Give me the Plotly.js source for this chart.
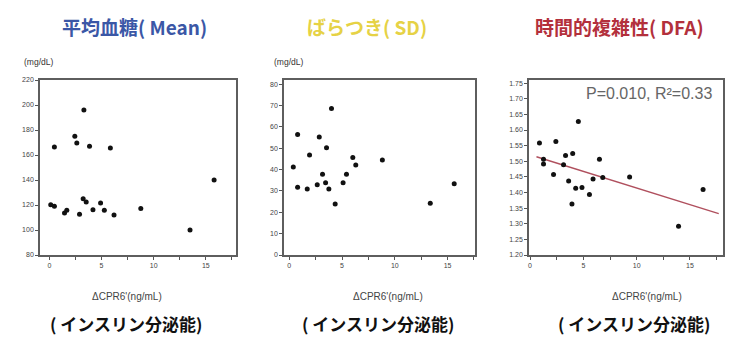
<!DOCTYPE html>
<html><head><meta charset="utf-8">
<script src="https://cdn.plot.ly/plotly-3.0.1.min.js"></script>
<style>html,body{margin:0;padding:0;background:#fff;}#chart{width:739px;height:341px;}</style>
</head><body><div id="chart"></div>
<script>
// ΔCPR6' (ng/mL) per patient
const meanX = [0.13,0.48,0.48,1.45,1.67,2.44,2.63,2.89,3.31,3.24,3.53,3.85,4.18,4.91,5.27,5.85,6.2,8.77,13.49,15.8];
const meanY = [120.2,119.1,166.4,113.7,115.9,175.1,169.7,112.6,196.1,125.1,122.4,167,116.2,121.6,115.9,165.6,112.1,117.2,100.1,140.1];

const sdX = [0.38,0.79,0.79,1.7,1.92,2.65,2.84,3.15,3.44,3.53,3.75,4.0,4.35,5.1,5.42,6.02,6.3,8.82,13.36,15.63];
const sdY = [41.2,56.5,31.8,30.9,46.8,32.9,55.3,37.8,33.8,50.3,30.9,68.7,23.9,33.8,37.8,45.7,42.2,44.5,24.2,33.4];

const dfaX = [0.88,1.26,1.26,2.2,2.42,3.14,3.33,3.62,4.0,3.93,4.28,4.53,4.87,5.57,5.91,6.51,6.82,9.34,13.93,16.23];
const dfaY = [1.558,1.506,1.491,1.458,1.563,1.489,1.518,1.437,1.525,1.363,1.414,1.627,1.416,1.394,1.443,1.506,1.448,1.45,1.292,1.41];
const fitRange = [0.6, 17.7];

const xTickVals = [0,2.5,5,7.5,10,12.5,15,17.5];
const xTickText = ['0','','5','','10','','15',''];
const meanTicks = [80,100,120,140,160,180,200,220];
const sdTicks = [0,10,20,30,40,50,60,70,80];
const dfaTicks = [1.20,1.25,1.30,1.35,1.40,1.45,1.50,1.55,1.60,1.65,1.70,1.75];

const titles = ['平均血糖( Mean)','ばらつき( SD)','時間的複雑性( DFA)'];
const titleColors = ['#3b57a6','#e6d245','#b3303c'];
const statText = 'P=0.010, R²=0.33';
const xLabel = "ΔCPR6'(ng/mL)";
const xSubLabel = '( インスリン分泌能)';
const yUnit = '(mg/dL)';

// least squares fit for DFA
const n = dfaX.length;
const mx = dfaX.reduce((a,b)=>a+b,0)/n, my = dfaY.reduce((a,b)=>a+b,0)/n;
let sxy=0, sxx=0;
for (let i=0;i<n;i++){sxy+=(dfaX[i]-mx)*(dfaY[i]-my); sxx+=(dfaX[i]-mx)*(dfaX[i]-mx);}
const slope = sxy/sxx, icpt = my - slope*mx;
const fitY = fitRange.map(x=>icpt+slope*x);

const W=739,H=341;
const px = v=>v/W, py = v=>1-v/H;
const yDom = [py(255), py(80)];

const mk = {color:'#111', size:5};
const traces = [
  {x:meanX,y:meanY,mode:'markers',type:'scatter',marker:mk,xaxis:'x',yaxis:'y'},
  {x:sdX,y:sdY,mode:'markers',type:'scatter',marker:mk,xaxis:'x2',yaxis:'y2'},
  {x:fitRange,y:fitY,mode:'lines',type:'scatter',line:{color:'#b0505e',width:1.4},xaxis:'x3',yaxis:'y3'},
  {x:dfaX,y:dfaY,mode:'markers',type:'scatter',marker:mk,xaxis:'x3',yaxis:'y3'}
];

const axBase = {showline:true,mirror:true,linecolor:'#5e5e5e',linewidth:1.8,ticks:'outside',ticklen:3,tickwidth:1,tickcolor:'#555',
  showgrid:false,zeroline:false,tickfont:{family:'Liberation Sans, Arial, sans-serif',size:7,color:'#444'}};
function xax(dom, range, anchor){return Object.assign({},axBase,{domain:dom,range:range,anchor:anchor,tickmode:'array',tickvals:xTickVals,ticktext:xTickText});}
function yax(range, ticks, anchor, fmt){return Object.assign({},axBase,{domain:yDom,range:range,anchor:anchor,tickmode:'array',tickvals:ticks,ticktext:ticks.map(fmt)});}

const ann = [];
const titleX = [134,367,619];
titles.forEach((t,i)=>ann.push({text:'<b>'+t+'</b>',x:px(titleX[i]),y:py(26),xref:'paper',yref:'paper',showarrow:false,xanchor:'center',yanchor:'middle',
  font:{family:'Noto Sans CJK JP, sans-serif',size:19,color:titleColors[i]}}));
[38.5,288.5].forEach(x=>ann.push({text:yUnit,x:px(x),y:py(62),xref:'paper',yref:'paper',showarrow:false,xanchor:'center',yanchor:'middle',
  font:{family:'Liberation Sans, Arial, sans-serif',size:8.5,color:'#333'}}));
[127,388,647].forEach(x=>ann.push({text:xLabel,x:px(x),y:py(296),xref:'paper',yref:'paper',showarrow:false,xanchor:'center',yanchor:'middle',
  font:{family:'Liberation Sans, Arial, sans-serif',size:10,color:'#444'}}));
[126,378,634].forEach(x=>ann.push({text:'<b>'+xSubLabel+'</b>',x:px(x),y:py(323),xref:'paper',yref:'paper',showarrow:false,xanchor:'center',yanchor:'middle',
  font:{family:'Noto Sans CJK JP, sans-serif',size:17,color:'#111'}}));
ann.push({text:statText,x:px(714),y:py(93),xref:'paper',yref:'paper',showarrow:false,xanchor:'right',yanchor:'middle',
  font:{family:'Liberation Sans, Arial, sans-serif',size:16,color:'#666'}});

const layout = {
  width:W,height:H,margin:{l:0,r:0,t:0,b:0},showlegend:false,paper_bgcolor:'#fff',plot_bgcolor:'#fff',
  xaxis:xax([px(40),px(236)],[-0.9,17.9],'y'),
  yaxis:yax([80,220],meanTicks,'x',v=>String(v)),
  xaxis2:xax([px(284),px(475)],[-0.5,17.6],'y2'),
  yaxis2:yax([0,82],sdTicks,'x2',v=>String(v)),
  xaxis3:xax([px(529),px(723)],[-0.1,18.1],'y3'),
  yaxis3:yax([1.2,1.76],dfaTicks,'x3',v=>v.toFixed(2)),
  annotations:ann
};
Plotly.newPlot('chart',traces,layout,{staticPlot:true});
</script></body></html>
